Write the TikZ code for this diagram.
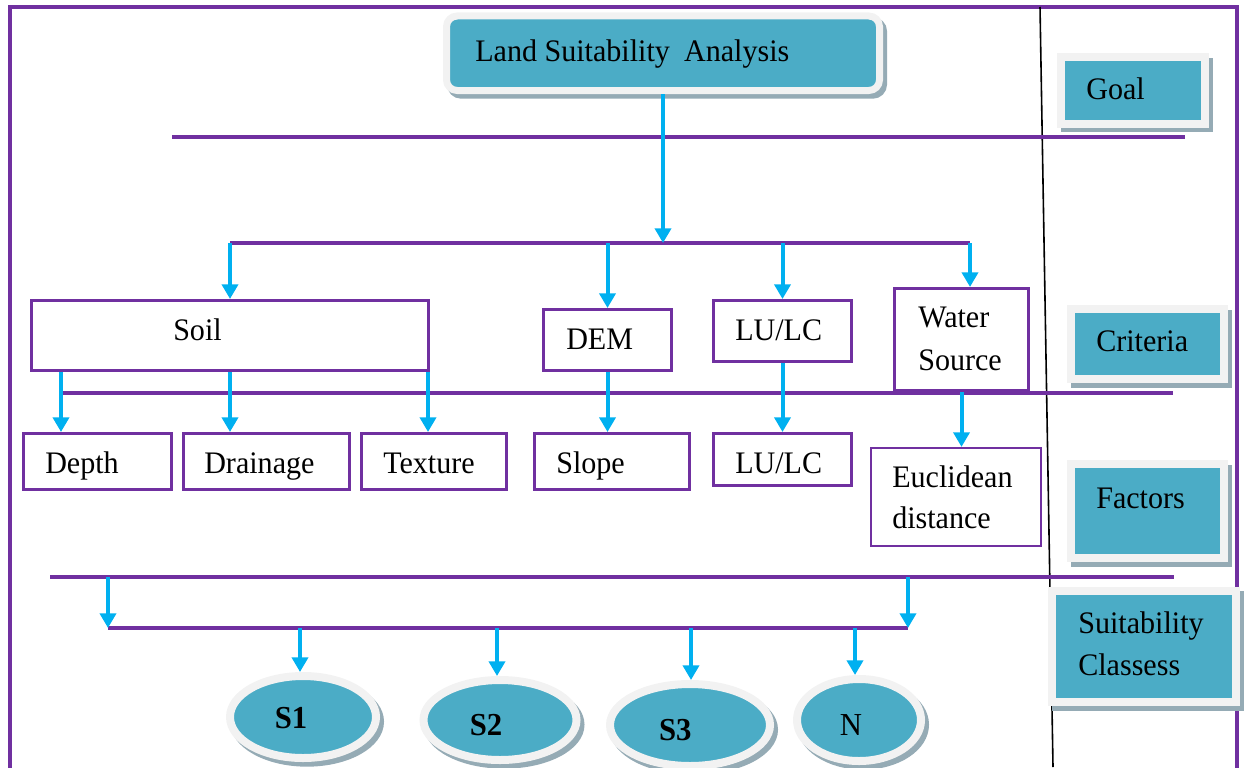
\documentclass[tikz,border=0pt]{standalone}
\usepackage{fontspec}
\setmainfont{Liberation Serif}[FakeStretch=0.96]
\usetikzlibrary{arrows.meta,shapes.geometric,shadows,fit}

\definecolor{hierline}{HTML}{7030A0}
\definecolor{flow}{HTML}{00B0F0}
\definecolor{tealfill}{HTML}{4BACC6}
\definecolor{ringgray}{HTML}{F2F2F2}
\definecolor{shadowc}{HTML}{95ABB5}

\tikzset{
  txt/.style={font=\fontsize{23.5}{31.5}\selectfont, inner sep=0pt, anchor=base west},
  boldtxt/.style={font=\fontsize{24}{28}\selectfont\bfseries, inner sep=0pt},
  level/.style={draw=hierline, line width=2.5pt},
  flowarr/.style={draw=flow, line width=3pt, -{Triangle[width=12pt,length=11pt]}},
  itembox/.style={draw=hierline, line width=2.25pt, fill=white, inner sep=0pt},
  tag/.style={fill=tealfill, draw=ringgray, line width=6pt, inner sep=0pt,
    drop shadow={shadow xshift=3pt, shadow yshift=-3.5pt, fill=shadowc, draw=shadowc, opacity=1}},
  classnode/.style={ellipse, tag},
}

\begin{document}
\begin{tikzpicture}[x=0.75pt,y=-0.75pt]
\useasboundingbox (0,0) rectangle (1244,767);

% frame and the divider of the legend column
\draw[hierline, line width=2.5pt] (10,7) rectangle (1237,800);
\draw[black, line width=1.2pt] (1040,7) -- (1053,767);

% separators between the levels
\draw[level] (172,137) -- (1185,137);
\draw[level] (60,393) -- (1173,393);
\draw[level] (50,577) -- (1174,577);

% goal
\node[tag, rounded corners=8pt, line width=5.25pt, fit={(446.5,16) (879.5,90.5)}] (lsa) {};
\node[txt] (lsa-t) at (475,62) {Land Suitability\hspace{0.45em}Analysis};

% legend column
\node[tag, fit={(1061,57) (1205,123.5)}] (goal) {};
\node[txt] (goal-t) at (1086,99) {Goal};
\node[tag, fit={(1070.5,309) (1224,379)}] (crit) {};
\node[txt] (crit-t) at (1096,351) {Criteria};
\node[tag, fit={(1070.5,464) (1224,558)}] (fact) {};
\node[txt] (fact-t) at (1096,508) {Factors};
\node[tag, fit={(1052,590.5) (1236,702)}] (suit) {};
\node[txt] (suit-t1) at (1078,633) {Suitability};
\node[txt] (suit-t2) at (1078,675) {Classess};

% criteria
\node[itembox, fit={(31.5,300.5) (428.5,370.5)}] (soil) {};
\node[txt] (soil-t) at (173,340) {Soil};
\node[itembox, fit={(543.5,309.5) (671.5,370.5)}] (dem) {};
\node[txt] (dem-t) at (566,349) {DEM};
\node[itembox, fit={(713.5,300.5) (851.5,361.5)}] (lulc) {};
\node[txt] (lulc-t) at (735,340) {LU/LC};
\node[itembox, fit={(894.5,288.5) (1028.5,390.5)}] (water) {};
\node[txt] (water-t1) at (918,327) {Water};
\node[txt] (water-t2) at (918,370) {Source};

% factors
\node[itembox, fit={(23.5,433.5) (171.5,489.5)}] (depth) {};
\node[txt] (depth-t) at (45,473) {Depth};
\node[itembox, fit={(183.5,433.5) (349.5,489.5)}] (drain) {};
\node[txt] (drain-t) at (204,473) {Drainage};
\node[itembox, fit={(361.5,433.5) (506.5,489.5)}] (texture) {};
\node[txt] (texture-t) at (383,473) {Texture};
\node[itembox, fit={(534.5,433.5) (689.5,489.5)}] (slope) {};
\node[txt] (slope-t) at (556,473) {Slope};
\node[itembox, fit={(713.5,433.5) (851.5,485.5)}] (lulc2) {};
\node[txt] (lulc2-t) at (735,473) {LU/LC};
\node[itembox, line width=1.6pt, fit={(871,448) (1041,546)}] (euclid) {};
\node[txt] (euclid-t1) at (892,487) {Euclidean};
\node[txt] (euclid-t2) at (892,528) {distance};

% suitability classes
\node[classnode, minimum width=109.5pt, minimum height=61.5pt,
  label={[boldtxt, xshift=-9pt, yshift=-0.75pt]center:S1}] (s1) at (303,717) {};
\node[classnode, minimum width=114.75pt, minimum height=60pt,
  label={[boldtxt, xshift=-10.5pt, yshift=-4pt]center:S2}] (s2) at (500,720) {};
\node[classnode, minimum width=120pt, minimum height=61.5pt,
  label={[boldtxt, xshift=-11pt, yshift=-3.75pt]center:S3}] (s3) at (690,725) {};
\node[classnode, minimum width=93pt, minimum height=61.5pt,
  label={[boldtxt, font=\fontsize{24}{28}\selectfont, xshift=-6pt, yshift=-3.75pt]center:N}] (n) at (859,720) {};

% goal to criteria
\coordinate (busL) at (230,243);
\coordinate (busR) at (970,243);
\draw[level] (busL) -- (busR);
\draw[flowarr] (lsa.south) -- (lsa.south |- busL);
\draw[flowarr] (busL) -- (soil.north);
\draw[flowarr] (dem.north |- busL) -- (dem.north);
\draw[flowarr] (lulc.north |- busL) -- (lulc.north);
\draw[flowarr] (busR) -- (busR |- water.north);

% criteria to factors
\coordinate (xa) at (61,0);
\coordinate (xb) at (230,0);
\coordinate (xc) at (428,0);
\draw[flowarr] (soil.south -| xa) -- (depth.north -| xa);
\draw[flowarr] (soil.south -| xb) -- (drain.north -| xb);
\draw[flowarr] (soil.south -| xc) -- (texture.north -| xc);
\draw[flowarr] (dem.south) -- (dem.south |- slope.north);
\draw[flowarr] (lulc.south) -- (lulc.south |- lulc2.north);
\draw[flowarr] (water.south) -- (water.south |- euclid.north);

% factors to classes
\coordinate (fl) at (108,577);
\coordinate (fr) at (908,577);
\coordinate (cl) at (108,628);
\coordinate (cr) at (908,628);
\draw[level] (cl) -- (cr);
\draw[flowarr] (fl) -- (cl);
\draw[flowarr] (fr) -- (cr);
\coordinate (k1) at (300,628);
\coordinate (k2) at (497,628);
\coordinate (k3) at (691,628);
\coordinate (k4) at (855,628);
\draw[flowarr] (k1) -- (k1 |- s1.north);
\draw[flowarr] (k2) -- (k2 |- s2.north);
\draw[flowarr] (k3) -- (k3 |- s3.north);
\draw[flowarr] (k4) -- (k4 |- n.north);
\end{tikzpicture}
\end{document}
